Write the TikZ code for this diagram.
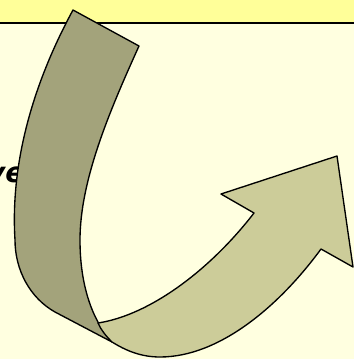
\documentclass[tikz,border=0pt]{standalone}
\usepackage{fontspec}
\newfontfamily\versefont{DejaVu Sans}
\definecolor{bgyel}{HTML}{FFFFE0}
\definecolor{bandyel}{HTML}{FFFF99}
\definecolor{darkstrip}{HTML}{A3A37B}
\definecolor{lightstrip}{HTML}{CCCC99}
\tikzset{
  strip/.style={draw=black, line width=1.35pt, line join=round},
}
\begin{document}
\begin{tikzpicture}[x=1pt,y=-1pt]
\useasboundingbox (0,0) rectangle (354,359);
\clip (0,0) rectangle (354,359);
\fill[bgyel] (0,0) rectangle (354,359);
\fill[bandyel] (0,0) rectangle (354,23);
\draw[line width=1.4pt] (0,23) -- (354,23);
\node[anchor=base west, inner sep=0pt, font=\versefont\bfseries\itshape\fontsize{28}{30}\selectfont] (txt) at (-13,182) {ve};
% back face of the ribbon
\draw[strip, fill=darkstrip] (73,10) -- (139,46)
  .. controls (110,110) and (80,180) .. (80,240)
  .. controls (80,285) and (92,320) .. (112,342)
  -- (55,312)
  .. controls (30,298) and (15,270) .. (15,240)
  .. controls (10,160) and (35,80) .. (73,10) -- cycle;
% front face with arrow head
\draw[strip, fill=lightstrip] (98,323)
  .. controls (150,315) and (210,270) .. (254,213)
  -- (221,194) -- (337,156) -- (353,267) -- (321,249)
  .. controls (280,305) and (220,357) .. (160,357)
  .. controls (140,357) and (125,350) .. (112,342)
  .. controls (106,336) and (101,330) .. (98,323) -- cycle;
\end{tikzpicture}
\end{document}
